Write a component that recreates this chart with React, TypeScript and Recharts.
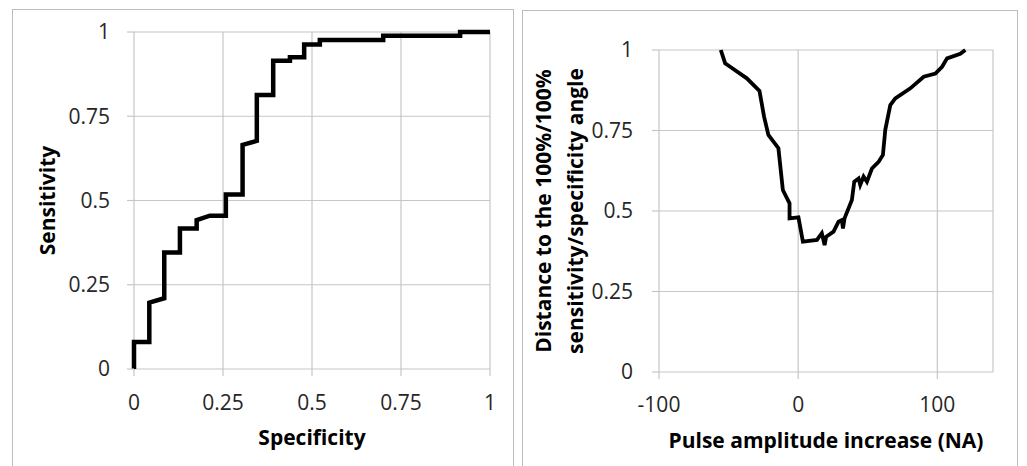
import { CartesianGrid, Label, Line, LineChart, XAxis, YAxis } from "recharts";

// ROC curve (left panel)
const specificity = [
  0, 0, 0.043, 0.043, 0.085, 0.085, 0.129, 0.129, 0.176, 0.176, 0.213, 0.258, 0.258, 0.305,
  0.305, 0.345, 0.345, 0.391, 0.391, 0.438, 0.438, 0.478, 0.478, 0.522, 0.522, 0.7, 0.7,
  0.916, 0.916, 1,
];
const sensitivity = [
  0, 0.08, 0.08, 0.197, 0.21, 0.346, 0.346, 0.417, 0.417, 0.442, 0.455, 0.455, 0.518, 0.518,
  0.665, 0.677, 0.813, 0.813, 0.915, 0.915, 0.925, 0.925, 0.963, 0.963, 0.976, 0.976, 0.989,
  0.989, 1, 1,
];

// distance curve (right panel)
const pulseIncrease = [
  -55.6, -52.5, -48.9, -36.9, -27.8, -24.5, -21.4, -14.2, -11, -6.2, -6.2, 0.2, 3.4, 13.5, 17,
  19, 20.1, 25.4, 29, 31.4, 32.2, 33.3, 38.6, 40.3, 43.4, 44.6, 47, 49.4, 53, 57.8, 60.9, 62.6,
  66.2, 69.8, 80.6, 90.2, 98.6, 103.4, 107, 116.5, 120.1,
];
const distance = [
  1.0, 0.959, 0.948, 0.912, 0.873, 0.793, 0.736, 0.695, 0.565, 0.524, 0.477, 0.48, 0.405, 0.41,
  0.431, 0.394, 0.42, 0.436, 0.467, 0.472, 0.446, 0.477, 0.534, 0.591, 0.601, 0.581, 0.607,
  0.591, 0.632, 0.653, 0.674, 0.752, 0.829, 0.85, 0.881, 0.917, 0.927, 0.948, 0.974, 0.988, 1.0,
];

const unitTicks = [0, 0.25, 0.5, 0.75, 1];
const pulseTicks = [-100, 0, 100];

const rocData = specificity.map((x, i) => ({ x, y: sensitivity[i] }));
const distData = pulseIncrease.map((x, i) => ({ x, y: distance[i] }));

const GRID = "#c6c6c6";
const FONT = "'Open Sans', sans-serif";
const tickStyle = { fill: "#262626", fontSize: 21, fontFamily: FONT };
const titleFont = { fill: "#000", fontSize: 21, fontWeight: 700, fontFamily: FONT };

function XTitle({ viewBox, text, fb }: any) {
  const vb = viewBox ?? fb;
  const cx = vb.x + vb.width / 2;
  const cy = vb.y + 68;
  return (
    <text x={cx} y={cy} dy="0.36em" textAnchor="middle" {...titleFont}>
      {text}
    </text>
  );
}

function YTitle({ viewBox, lines, x, fb }: any) {
  const vb = viewBox ?? fb;
  const cy = vb.y + vb.height / 2;
  return (
    <text transform={`rotate(-90, ${x}, ${cy})`} x={x} y={cy} textAnchor="middle" {...titleFont}>
      {lines.map((l: string, i: number) => (
        <tspan key={i} x={x} dy={i === 0 ? "0.36em" : 32}>
          {l}
        </tspan>
      ))}
    </text>
  );
}

const panel = {
  position: "absolute" as const,
  border: "1px solid #bdbdbd",
  background: "#fff",
  height: 480,
};

export default function App() {
  return (
    <div
      style={{
        position: "absolute",
        left: 0,
        top: 0,
        width: 1027,
        height: 466,
        overflow: "hidden",
        background: "#fff",
      }}
    >
      <div style={{ ...panel, left: 12, top: 9, width: 500 }} />
      <div style={{ ...panel, left: 522, top: 10, width: 494 }} />

      <div style={{ position: "absolute", left: 12, top: 9 }}>
        <LineChart width={501} height={460} data={rocData} margin={{ top: 23, right: 23, left: 0, bottom: 0 }}>
          <CartesianGrid stroke={GRID} strokeWidth={1.2} />
          <XAxis
            type="number"
            dataKey="x"
            domain={[0, 1]}
            ticks={unitTicks}
            height={100}
            tick={tickStyle}
            tickSize={7}
            tickMargin={19}
            axisLine={false}
            tickLine={{ stroke: GRID, strokeWidth: 1.2 }}
          >
            <Label
              content={(p: any) => (
                <XTitle {...p} text="Specificity" fb={{ x: 122, y: 360, width: 356, height: 100 }} />
              )}
            />
          </XAxis>
          <YAxis
            type="number"
            domain={[0, 1]}
            ticks={unitTicks}
            width={122}
            tick={tickStyle}
            tickSize={7}
            tickMargin={17}
            axisLine={false}
            tickLine={{ stroke: GRID, strokeWidth: 1.2 }}
          >
            <Label
              content={(p: any) => (
                <YTitle {...p} lines={["Sensitivity"]} x={35} fb={{ x: 0, y: 23, width: 122, height: 337 }} />
              )}
            />
          </YAxis>
          <Line
            type="linear"
            dataKey="y"
            stroke="#000"
            strokeWidth={4.5}
            dot={false}
            activeDot={false}
            isAnimationActive={false}
          />
        </LineChart>
      </div>

      <div style={{ position: "absolute", left: 522, top: 10 }}>
        <LineChart width={495} height={460} data={distData} margin={{ top: 40, right: 24, left: 0, bottom: 0 }}>
          <CartesianGrid stroke={GRID} strokeWidth={1.2} />
          <XAxis
            type="number"
            dataKey="x"
            domain={[-100, 140]}
            ticks={pulseTicks}
            height={98}
            tick={tickStyle}
            tickSize={7}
            tickMargin={18}
            axisLine={false}
            tickLine={{ stroke: GRID, strokeWidth: 1.2 }}
          >
            <Label
              content={(p: any) => (
                <XTitle
                  {...p}
                  text="Pulse amplitude increase (NA)"
                  fb={{ x: 137, y: 362, width: 334, height: 98 }}
                />
              )}
            />
          </XAxis>
          <YAxis
            type="number"
            domain={[0, 1]}
            ticks={unitTicks}
            width={137}
            tick={tickStyle}
            tickSize={7}
            tickMargin={19}
            axisLine={false}
            tickLine={{ stroke: GRID, strokeWidth: 1.2 }}
          >
            <Label
              content={(p: any) => (
                <YTitle
                  {...p}
                  lines={["Distance to the 100%/100%", "sensitivity/specificity angle"]}
                  x={21}
                  fb={{ x: 0, y: 40, width: 137, height: 322 }}
                />
              )}
            />
          </YAxis>
          <Line
            type="linear"
            dataKey="y"
            stroke="#000"
            strokeWidth={3.8}
            dot={false}
            activeDot={false}
            isAnimationActive={false}
          />
        </LineChart>
      </div>
    </div>
  );
}
